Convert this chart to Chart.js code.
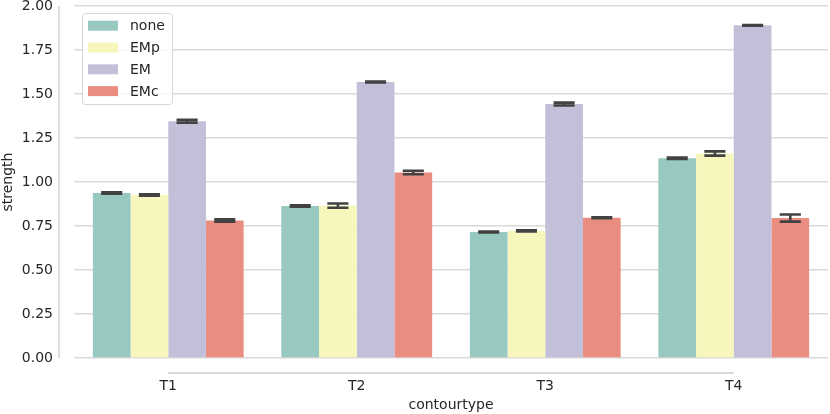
<!DOCTYPE html>
<html>
<head>
<meta charset="utf-8">
<script src="https://cdn.jsdelivr.net/npm/chart.js@4.4.0/dist/chart.umd.min.js"></script>
<style>
  html, body { margin: 0; padding: 0; background: #fff; }
  #wrap { width: 830px; height: 414px; }
</style>
</head>
<body>
<div id="wrap"><canvas id="myChart" width="830" height="414"></canvas></div>
<script>
const categories = ['T1', 'T2', 'T3', 'T4'];
const seriesNames = ['none', 'EMp', 'EM', 'EMc'];
const noneValues = [0.938, 0.864, 0.716, 1.135];
const empValues = [0.926, 0.866, 0.722, 1.162];
const emValues = [1.345, 1.568, 1.443, 1.890];
const emcValues = [0.781, 1.054, 0.797, 0.795];
// half widths of the error bars
const noneErr = [0.004, 0.004, 0.003, 0.004];
const empErr = [0.004, 0.012, 0.003, 0.012];
const emErr = [0.008, 0.003, 0.008, 0.002];
const emcErr = [0.007, 0.010, 0.003, 0.020];
const yTicks = [0, 0.25, 0.5, 0.75, 1.0, 1.25, 1.5, 1.75, 2.0];

const colors = ['#97c9c1', '#f6f6bd', '#c2bfd8', '#ea8d81'];
const textColor = '#262626';

function buildDatasets() {
  const vals = [noneValues, empValues, emValues, emcValues];
  const errs = [noneErr, empErr, emErr, emcErr];
  return seriesNames.map((name, i) => ({
    label: name,
    data: vals[i],
    err: errs[i],
    backgroundColor: colors[i],
    borderWidth: 0,
    barPercentage: 1.0,
    categoryPercentage: 0.8
  }));
}

const errorBars = {
  id: 'errorBars',
  afterDatasetsDraw(chart) {
    const {ctx} = chart;
    const y = chart.scales.y;
    ctx.save();
    ctx.strokeStyle = '#424242';
    ctx.lineWidth = 2.6;
    chart.data.datasets.forEach((ds, di) => {
      const meta = chart.getDatasetMeta(di);
      meta.data.forEach((bar, i) => {
        const v = ds.data[i];
        const e = ds.err[i];
        const top = y.getPixelForValue(v + e);
        const bot = y.getPixelForValue(v - e);
        const half = bar.width * 0.28;
        ctx.beginPath();
        ctx.moveTo(bar.x, top);
        ctx.lineTo(bar.x, bot);
        ctx.moveTo(bar.x - half, top);
        ctx.lineTo(bar.x + half, top);
        ctx.moveTo(bar.x - half, bot);
        ctx.lineTo(bar.x + half, bot);
        ctx.stroke();
      });
    });
    ctx.restore();
  }
};

const spinesAndLegend = {
  id: 'spinesAndLegend',
  afterDraw(chart) {
    const {ctx} = chart;
    const x = chart.scales.x;
    const y = chart.scales.y;
    ctx.save();
    ctx.strokeStyle = '#cccccc';
    ctx.lineWidth = 1.3;
    // left spine, offset out of the plot
    const sx = chart.chartArea.left - 15;
    ctx.beginPath();
    ctx.moveTo(sx, y.getPixelForValue(2.0));
    ctx.lineTo(sx, y.getPixelForValue(0));
    ctx.stroke();
    // bottom spine, trimmed to first and last tick
    const sy = chart.chartArea.bottom + 15;
    ctx.beginPath();
    ctx.moveTo(x.getPixelForValue(0), sy);
    ctx.lineTo(x.getPixelForValue(categories.length - 1), sy);
    ctx.stroke();

    // legend in upper left
    const lx = 82, ly = 13, lw = 90, lh = 91;
    ctx.fillStyle = 'rgba(255,255,255,0.8)';
    ctx.strokeStyle = '#d6d6d6';
    ctx.lineWidth = 1;
    ctx.beginPath();
    ctx.roundRect(lx + 0.5, ly + 0.5, lw, lh, 3);
    ctx.fill();
    ctx.stroke();
    ctx.font = '14px "DejaVu Sans"';
    ctx.textBaseline = 'middle';
    chart.data.datasets.forEach((ds, i) => {
      const ry = 25.7 + i * 21.8;
      ctx.fillStyle = ds.backgroundColor;
      ctx.fillRect(88, ry - 5, 30, 10);
      ctx.fillStyle = textColor;
      ctx.fillText(ds.label, 130, ry + 1);
    });
    ctx.restore();
  }
};

const chart = new Chart(document.querySelector('#myChart'), {
  type: 'bar',
  data: { labels: categories, datasets: buildDatasets() },
  options: {
    responsive: false,
    animation: false,
    layout: { padding: { top: 6, right: 2, left: 0, bottom: 0 } },
    plugins: { legend: { display: false }, tooltip: { enabled: false } },
    scales: {
      x: {
        afterFit(axis) { axis.height = 56; axis.paddingLeft = 0; axis.paddingRight = 0; },
        grid: { display: false, drawTicks: false },
        border: { display: false },
        ticks: { color: textColor, font: { family: 'DejaVu Sans', size: 14 }, padding: 20 },
        title: { display: true, text: 'contourtype', color: textColor,
          font: { family: 'DejaVu Sans', size: 14 }, padding: { top: 1, bottom: 0 } }
      },
      y: {
        min: 0,
        max: 2.0,
        afterBuildTicks(axis) { axis.ticks = yTicks.map((v) => ({ value: v })); },
        afterFit(axis) { axis.width = 74; axis.paddingTop = 0; axis.paddingBottom = 0; },
        grid: { color: '#d9d9d9', lineWidth: 1.4, drawTicks: false },
        border: { display: false },
        ticks: {
          color: textColor,
          font: { family: 'DejaVu Sans', size: 14 },
          padding: 21,
          callback: (v) => v.toFixed(2)
        },
        title: { display: true, text: 'strength', color: textColor,
          font: { family: 'DejaVu Sans', size: 14 }, padding: { top: 0, bottom: 0 } }
      }
    }
  },
  plugins: [errorBars, spinesAndLegend]
});
</script>
</body>
</html>
